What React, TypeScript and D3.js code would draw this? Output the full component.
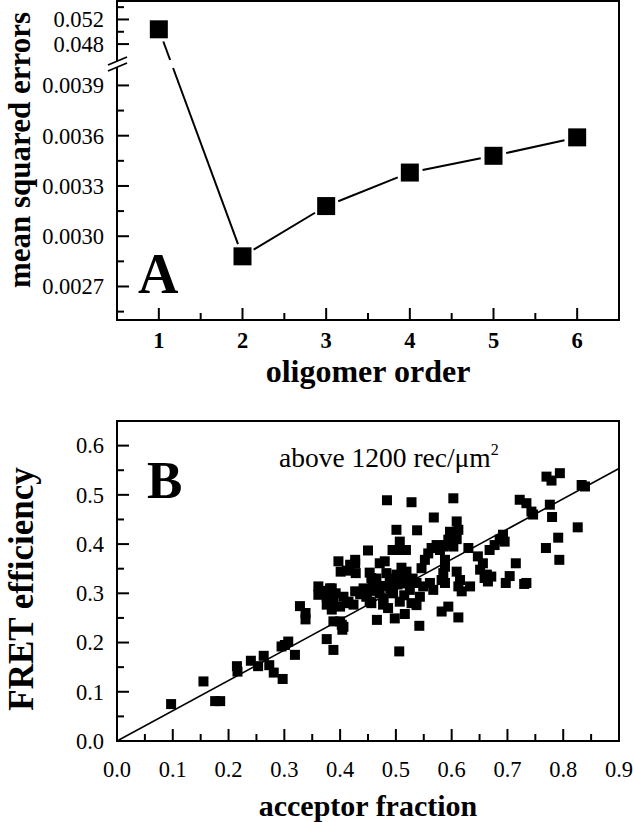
import { useEffect, useRef } from 'react'
import * as d3 from 'd3'

// Panel A: mean squared error vs oligomer order
const orders = [1, 2, 3, 4, 5, 6]
const mse = [0.0504, 0.00288, 0.00318, 0.00338, 0.00348, 0.00359]
const lowTicks = [0.0027, 0.003, 0.0033, 0.0036, 0.0039]
const lowTickLabels = ['0.0027', '0.0030', '0.0033', '0.0036', '0.0039']
const lowMinor = [0.00255, 0.00285, 0.00315, 0.00345, 0.00375]
const highTicks = [0.048, 0.052]
const highTickLabels = ['0.048', '0.052']
const highMinor = [0.05, 0.054]

// Panel B: FRET efficiency vs acceptor fraction
const acceptor = [
  0.097, 0.155, 0.176, 0.185, 0.215, 0.216, 0.24, 0.253, 0.263, 0.273, 0.281, 0.297, 0.295, 0.307, 0.301, 0.319,
  0.328, 0.338, 0.338,
  0.361, 0.361, 0.367, 0.376, 0.382, 0.385, 0.388, 0.382, 0.376, 0.385, 0.4, 0.412, 0.424, 0.406, 0.415, 0.427,
  0.388, 0.4, 0.406, 0.403, 0.404, 0.376, 0.388, 0.397, 0.412, 0.427, 0.401, 0.418, 0.428, 0.427, 0.392, 0.371,
  0.484, 0.528, 0.501, 0.538, 0.507, 0.494, 0.506, 0.518, 0.45, 0.453, 0.471, 0.48, 0.456, 0.462, 0.471, 0.483,
  0.489, 0.501, 0.513, 0.519, 0.525, 0.495, 0.537, 0.549, 0.561, 0.543, 0.447, 0.456, 0.477, 0.507, 0.528, 0.453,
  0.466, 0.486, 0.498, 0.516, 0.537, 0.542, 0.506, 0.546, 0.552, 0.558, 0.567, 0.576, 0.448, 0.46, 0.475, 0.49,
  0.503, 0.515, 0.465, 0.458, 0.51, 0.478, 0.495, 0.53, 0.52, 0.442, 0.436,
  0.568, 0.603, 0.609, 0.612, 0.597, 0.594, 0.609, 0.603, 0.585, 0.573, 0.579, 0.564, 0.63, 0.588, 0.588, 0.585,
  0.582, 0.588, 0.567, 0.609, 0.615, 0.612, 0.618, 0.633, 0.647, 0.656, 0.651, 0.663, 0.668, 0.677, 0.686, 0.692,
  0.695, 0.659, 0.671, 0.665, 0.582, 0.594, 0.612, 0.597, 0.588,
  0.715, 0.704, 0.697, 0.73, 0.722, 0.734, 0.743, 0.746, 0.77, 0.779, 0.794, 0.833, 0.839, 0.776, 0.78, 0.826,
  0.791, 0.769, 0.793, 0.734
]
const fret = [
  0.075, 0.121, 0.081, 0.081, 0.152, 0.141, 0.163, 0.152, 0.173, 0.154, 0.139, 0.126, 0.192, 0.202, 0.195, 0.175,
  0.274, 0.26, 0.247,
  0.314, 0.297, 0.3, 0.293, 0.31, 0.31, 0.283, 0.29, 0.277, 0.267, 0.273, 0.28, 0.277, 0.293, 0.283, 0.304,
  0.243, 0.243, 0.232, 0.236, 0.226, 0.207, 0.185, 0.365, 0.346, 0.361, 0.344, 0.358, 0.341, 0.368, 0.3, 0.305,
  0.489, 0.485, 0.429, 0.428, 0.405, 0.388, 0.388, 0.388, 0.387, 0.342, 0.361, 0.365, 0.331, 0.314, 0.3, 0.341,
  0.321, 0.338, 0.334, 0.344, 0.307, 0.3, 0.321, 0.314, 0.321, 0.293, 0.293, 0.28, 0.277, 0.283, 0.28, 0.283,
  0.246, 0.27, 0.249, 0.258, 0.276, 0.234, 0.182, 0.351, 0.368, 0.381, 0.392, 0.395, 0.3, 0.305, 0.315, 0.31,
  0.318, 0.296, 0.33, 0.318, 0.352, 0.29, 0.33, 0.33, 0.32, 0.31, 0.298,
  0.454, 0.493, 0.446, 0.429, 0.425, 0.409, 0.41, 0.395, 0.395, 0.398, 0.388, 0.392, 0.392, 0.368, 0.354, 0.341,
  0.327, 0.321, 0.307, 0.344, 0.327, 0.314, 0.304, 0.314, 0.375, 0.361, 0.348, 0.338, 0.388, 0.398, 0.409, 0.419,
  0.405, 0.331, 0.334, 0.324, 0.263, 0.273, 0.251, 0.409, 0.398,
  0.361, 0.335, 0.321, 0.319, 0.49, 0.483, 0.466, 0.46, 0.537, 0.529, 0.544, 0.52, 0.517, 0.48, 0.455, 0.434,
  0.413, 0.392, 0.368, 0.321
]
const fitSlope = 0.615
const xTicksB = [0, 0.1, 0.2, 0.3, 0.4, 0.5, 0.6, 0.7, 0.8, 0.9]
const yTicksB = [0, 0.1, 0.2, 0.3, 0.4, 0.5, 0.6]

const FONT = "'Liberation Serif', 'Times New Roman', serif"
const W = 633
const H = 822

export default function App() {
  const svgRef = useRef<SVGSVGElement>(null)

  useEffect(() => {
    if (!svgRef.current) return
    const svg = d3.select(svgRef.current)
    svg.selectAll('*').remove()

    svg.append('rect').attr('width', W).attr('height', H).style('fill', '#fff')

    const tickLine = (g: any, x1: number, y1: number, x2: number, y2: number) =>
      g.append('line')
        .attr('x1', x1).attr('y1', y1).attr('x2', x2).attr('y2', y2)
        .style('stroke', '#000').style('stroke-width', '2px')

    // ---------- Panel A ----------
    const a = svg.append('g')
    const left = 117, right = 619, topA = 1, bottomA = 320
    const breakTop = 61, breakBottom = 67

    const xA = d3.scaleLinear().domain([0.5, 6.5]).range([left, right])
    const yLow = d3.scaleLinear().domain([0.0025, 0.00401]).range([bottomA, breakBottom])
    const yHigh = d3.scaleLinear().domain([0.04525, 0.055]).range([breakTop, topA])
    const yA = (v: number) => (v > 0.01 ? yHigh(v) : yLow(v))

    // frame, left axis broken
    tickLine(a, left - 1, topA, right + 1, topA)
    tickLine(a, right, topA, right, bottomA)
    tickLine(a, left - 1, bottomA, right + 1, bottomA)
    tickLine(a, left, topA, left, breakTop)
    tickLine(a, left, breakBottom, left, bottomA)

    // break marks
    a.append('line').attr('x1', 108).attr('y1', breakTop + 4).attr('x2', 127).attr('y2', breakTop - 4)
      .style('stroke', '#000').style('stroke-width', '1.8px')
    a.append('line').attr('x1', 108).attr('y1', breakBottom + 4).attr('x2', 127).attr('y2', breakBottom - 4)
      .style('stroke', '#000').style('stroke-width', '1.8px')

    // x ticks
    orders.forEach(o => {
      tickLine(a, xA(o), bottomA, xA(o), bottomA - 12)
      a.append('text')
        .attr('x', xA(o)).attr('y', bottomA + 28)
        .attr('text-anchor', 'middle')
        .style('font-family', FONT).style('font-size', '22.5px').style('font-weight', 'bold')
        .text(o)
    })
    orders.slice(0, -1).forEach(o => tickLine(a, xA(o + 0.5), bottomA, xA(o + 0.5), bottomA - 7))

    // y ticks
    const yLabel = (g: any, y: number, t: string) =>
      g.append('text')
        .attr('x', 104).attr('y', y).attr('dy', '0.35em')
        .attr('text-anchor', 'end')
        .style('font-family', FONT).style('font-size', '22.5px')
        .text(t)

    lowTicks.forEach((v, i) => {
      tickLine(a, left, yLow(v), left + 12, yLow(v))
      yLabel(a, yLow(v), lowTickLabels[i])
    })
    lowMinor.forEach(v => tickLine(a, left, yLow(v), left + 7, yLow(v)))
    highTicks.forEach((v, i) => {
      tickLine(a, left, yHigh(v), left + 12, yHigh(v))
      yLabel(a, yHigh(v), highTickLabels[i])
    })
    highMinor.forEach(v => tickLine(a, left, yHigh(v), left + 7, yHigh(v)))

    // connecting segments, with gaps at the markers
    const gap = 13
    for (let i = 0; i < orders.length - 1; i++) {
      const x1 = xA(orders[i]), y1 = yA(mse[i])
      const x2 = xA(orders[i + 1]), y2 = yA(mse[i + 1])
      const len = Math.hypot(x2 - x1, y2 - y1)
      const ux = (x2 - x1) / len, uy = (y2 - y1) / len
      const sx = x1 + ux * gap, sy = y1 + uy * gap
      const ex = x2 - ux * gap, ey = y2 - uy * gap
      if (y1 < breakTop && y2 > breakBottom) {
        // cut the piece that crosses the axis break
        const at = (yy: number) => x1 + (x2 - x1) * (yy - y1) / (y2 - y1)
        a.append('line').attr('x1', sx).attr('y1', sy).attr('x2', at(breakTop - 1)).attr('y2', breakTop - 1)
          .style('stroke', '#000').style('stroke-width', '2px')
        a.append('line').attr('x1', at(breakBottom + 1)).attr('y1', breakBottom + 1).attr('x2', ex).attr('y2', ey)
          .style('stroke', '#000').style('stroke-width', '2px')
      } else {
        a.append('line').attr('x1', sx).attr('y1', sy).attr('x2', ex).attr('y2', ey)
          .style('stroke', '#000').style('stroke-width', '2px')
      }
    }

    const sqA = 18
    a.selectAll('.sq')
      .data(orders)
      .join('rect')
      .attr('x', d => xA(d) - sqA / 2)
      .attr('y', (d, i) => yA(mse[i]) - sqA / 2)
      .attr('width', sqA).attr('height', sqA)
      .style('fill', '#000')

    a.append('text')
      .attr('x', 138).attr('y', 293)
      .style('font-family', FONT).style('font-size', '56px').style('font-weight', 'bold')
      .text('A')

    a.append('text')
      .attr('transform', 'translate(30,150) rotate(-90)')
      .attr('text-anchor', 'middle')
      .style('font-family', FONT).style('font-size', '31px').style('font-weight', 'bold')
      .text('mean squared errors')

    a.append('text')
      .attr('x', 368).attr('y', 382)
      .attr('text-anchor', 'middle')
      .style('font-family', FONT).style('font-size', '32px').style('font-weight', 'bold')
      .text('oligomer order')

    // ---------- Panel B ----------
    const b = svg.append('g')
    const topB = 421, bottomB = 741
    const xB = d3.scaleLinear().domain([0, 0.9]).range([left, right])
    const yB = d3.scaleLinear().domain([0, 0.65]).range([bottomB, topB])

    b.append('rect')
      .attr('x', left).attr('y', topB).attr('width', right - left).attr('height', bottomB - topB)
      .style('fill', 'none').style('stroke', '#000').style('stroke-width', '2px')

    xTicksB.forEach(v => {
      tickLine(b, xB(v), bottomB, xB(v), bottomB - 12)
      b.append('text')
        .attr('x', xB(v)).attr('y', bottomB + 36)
        .attr('text-anchor', 'middle')
        .style('font-family', FONT).style('font-size', '22.5px')
        .text(v.toFixed(1))
    })
    xTicksB.slice(0, -1).forEach(v => tickLine(b, xB(v + 0.05), bottomB, xB(v + 0.05), bottomB - 7))

    yTicksB.forEach(v => {
      tickLine(b, left, yB(v), left + 12, yB(v))
      yLabel(b, yB(v), v.toFixed(1))
    })
    yTicksB.forEach(v => tickLine(b, left, yB(v + 0.05), left + 7, yB(v + 0.05)))

    // linear fit through origin
    const fitLine = d3.line<number>()
      .x(d => xB(d))
      .y(d => yB(fitSlope * d))
    b.append('path')
      .datum([0, 0.9])
      .attr('d', fitLine)
      .style('fill', 'none').style('stroke', '#000').style('stroke-width', '1.6px')

    const sqB = 10
    b.selectAll('.pt')
      .data(acceptor)
      .join('rect')
      .attr('x', d => xB(d) - sqB / 2)
      .attr('y', (d, i) => yB(fret[i]) - sqB / 2)
      .attr('width', sqB).attr('height', sqB)
      .style('fill', '#000')

    b.append('text')
      .attr('x', 147).attr('y', 498)
      .style('font-family', FONT).style('font-size', '53px').style('font-weight', 'bold')
      .text('B')

    const note = b.append('text')
      .attr('x', 279).attr('y', 467)
      .style('font-family', FONT).style('font-size', '27.5px')
    note.append('tspan').text('above 1200 rec/\u03bcm')
    note.append('tspan').attr('dy', -12).style('font-size', '16px').text('2')

    b.append('text')
      .attr('transform', 'translate(33,589) rotate(-90)')
      .attr('text-anchor', 'middle')
      .style('font-family', FONT).style('font-size', '35px').style('font-weight', 'bold')
      .text('FRET efficiency')

    b.append('text')
      .attr('x', 368).attr('y', 816)
      .attr('text-anchor', 'middle')
      .style('font-family', FONT).style('font-size', '30px').style('font-weight', 'bold')
      .text('acceptor fraction')
  }, [])

  return (
    <svg
      ref={svgRef}
      width={W}
      height={H}
      style={{ position: 'absolute', left: 0, top: 0 }}
    />
  )
}
